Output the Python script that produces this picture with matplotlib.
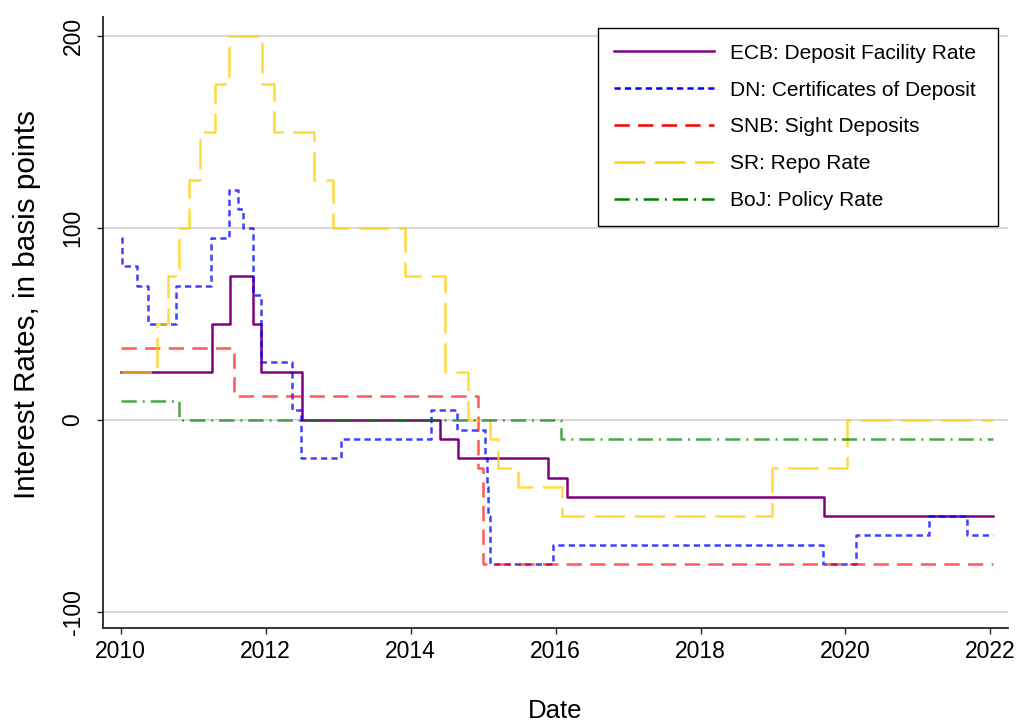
import matplotlib
matplotlib.use("Agg")
import matplotlib.pyplot as plt

plt.rcParams['font.family'] = ['Liberation Sans', 'DejaVu Sans']
plt.rcParams['lines.scale_dashes'] = False
plt.rcParams['axes.unicode_minus'] = False

# policy rates in basis points, date of each change (decimal years)
ecb_dates = [2010.0, 2011.26, 2011.51, 2011.83, 2011.93, 2012.50, 2014.41, 2014.66, 2015.90, 2016.16, 2019.70, 2022.03]
ecb_rate  = [25, 50, 75, 50, 25, 0, -10, -20, -30, -40, -50, -50]

dn_dates = [2010.0, 2010.02, 2010.22, 2010.38, 2010.77, 2011.25, 2011.50, 2011.62, 2011.69, 2011.82, 2011.93,
            2012.37, 2012.49, 2013.04, 2014.28, 2014.64, 2015.03, 2015.05, 2015.07, 2015.09, 2015.97,
            2019.69, 2020.15, 2021.15, 2021.68, 2022.03]
dn_rate  = [95, 80, 70, 50, 70, 95, 120, 110, 100, 65, 30,
            5, -20, -10, 5, -5, -20, -35, -50, -75, -65,
            -75, -60, -50, -60, -60]

snb_dates = [2010.0, 2011.57, 2014.93, 2015.00, 2022.03]
snb_rate  = [37.5, 12.5, -25, -75, -75]

sr_dates = [2010.0, 2010.50, 2010.66, 2010.80, 2010.95, 2011.10, 2011.30, 2011.49, 2011.95, 2012.12, 2012.67,
            2012.93, 2013.92, 2014.47, 2014.79, 2015.10, 2015.20, 2015.48, 2016.09, 2018.99, 2020.02, 2022.03]
sr_rate  = [25, 50, 75, 100, 125, 150, 175, 200, 175, 150, 125,
            100, 75, 25, 0, -10, -25, -35, -50, -25, 0, 0]

boj_dates = [2010.0, 2010.80, 2016.08, 2022.03]
boj_rate  = [10, 0, -10, -10]

fig = plt.figure(figsize=(10.17, 7.21), dpi=100)
ax = fig.add_axes([0.1013, 0.129, 0.8897, 0.8477])

lw = 1.8
ax.step(ecb_dates, ecb_rate, where='post', color='#800080', lw=lw, label='ECB: Deposit Facility Rate ')
ax.step(dn_dates, dn_rate, where='post', color='#0000FF', lw=lw, alpha=0.75,
        dashes=(4.5, 3), label='DN: Certificates of Deposit ')
ax.step(snb_dates, snb_rate, where='post', color='#FF0000', lw=lw, alpha=0.65,
        dashes=(11, 6), label='SNB: Sight Deposits')
ax.step(sr_dates, sr_rate, where='post', color='#FFD000', lw=lw, alpha=0.75,
        dashes=(22, 7), label='SR: Repo Rate')
ax.step(boj_dates, boj_rate, where='post', color='#008000', lw=lw, alpha=0.7,
        dashes=(11, 4.3, 1.4, 4.3), label='BoJ: Policy Rate')

ax.set_xlim(2009.757, 2022.24)
ax.set_ylim(-108.3, 210)
ax.set_xticks(range(2010, 2023, 2))
ax.set_yticks([-100, 0, 100, 200])
ax.grid(axis='y', color='#D8D8D8', lw=1.4)
ax.set_axisbelow(True)

for s in ['top', 'right']:
    ax.spines[s].set_visible(False)
for s in ['left', 'bottom']:
    ax.spines[s].set_linewidth(1.3)
    ax.spines[s].set_color('#262626')

ax.tick_params(axis='both', labelsize=16.5, length=4.3, width=1, color='#262626')
ax.tick_params(axis='x', pad=4)
ax.tick_params(axis='y', pad=9)
for t in ax.get_yticklabels():
    t.set_rotation(90)
    t.set_va('center')

ax.set_xlabel('Date', fontsize=18.5, labelpad=26)
ax.set_ylabel('Interest Rates, in basis points', fontsize=21.3)
ax.yaxis.set_label_coords(-0.068, 0.529)

leg = ax.legend(loc='upper right', bbox_to_anchor=(0.989, 0.982), fontsize=15,
                handlelength=4.8, handletextpad=0.8, labelspacing=0.86,
                borderpad=0.76, borderaxespad=0, fancybox=False, framealpha=1,
                edgecolor='black')
leg.get_frame().set_linewidth(1)
for h in leg.legend_handles:
    h.set_alpha(1)

fig.savefig('out.png', dpi=100)
